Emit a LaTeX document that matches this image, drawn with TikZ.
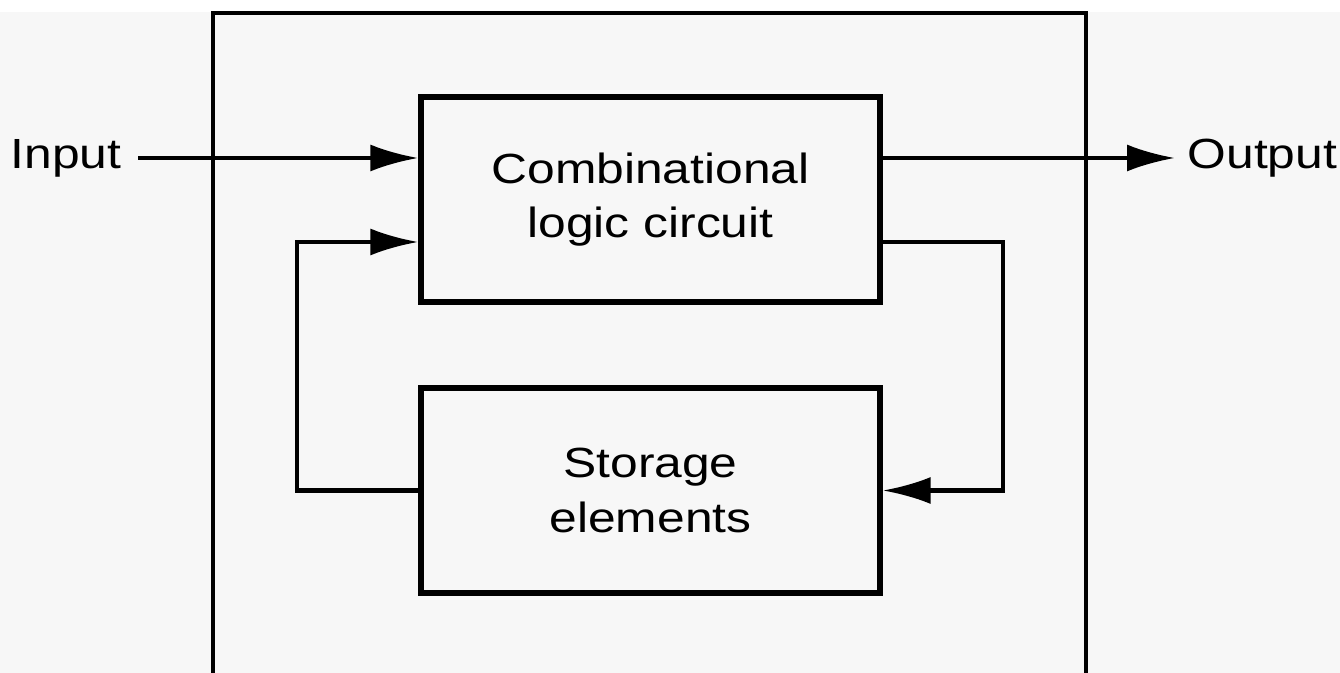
\documentclass[tikz,border=0pt]{standalone}
\usepackage{fontspec}
\setmainfont{Liberation Sans}[FakeStretch=1.18]
\usetikzlibrary{arrows.meta}

\begin{document}
\begin{tikzpicture}[>={Latex[length=4.8mm, width=2.7mm]},
		blockbox/.style={draw, line width=1.5pt, minimum width=4.59cm, minimum height=2.05cm, align=center, font=\fontsize{12}{15.5}\selectfont},
		link/.style={line width=1.15pt},
		tag/.style={font=\fontsize{12}{15}\selectfont, inner ysep=0pt}]
	% page size and the grey paper below the white strip at the top
	\useasboundingbox (0,0) rectangle (13.4,6.73);
	\fill[black!3] (0,0) rectangle (13.4,6.61);
	% the enclosing frame, cut off by the bottom edge
	\draw[link] (2.13,0) -- (2.13,6.60) -- (10.86,6.60) -- (10.86,0);
	\node[blockbox] (comb) at (6.505,4.735) {Combinational\\logic circuit};
	\node[blockbox] (store) at (6.505,1.825) {Storage\\elements};
	\node[tag, anchor=west, inner xsep=1.6mm] (in) at (-0.06,5.15) {Input};
	\node[tag, anchor=west, inner xsep=1.2mm] (out) at (11.75,5.15) {Output};
	\coordinate (rloop) at (10.03,1.825);
	\coordinate (lloop) at (2.97,1.825);
	\draw[link, ->] (in) -- (in -| comb.west);
	\draw[link, ->] (comb.east |- in) -- (out);
	% feedback through the storage elements
	\draw[link, ->] ([yshift=-4.25mm]comb.east) -| (rloop) -- (store.east);
	\draw[link, ->] (store.west) -- (lloop) |- ([yshift=-4.25mm]comb.west);
\end{tikzpicture}
\end{document}
